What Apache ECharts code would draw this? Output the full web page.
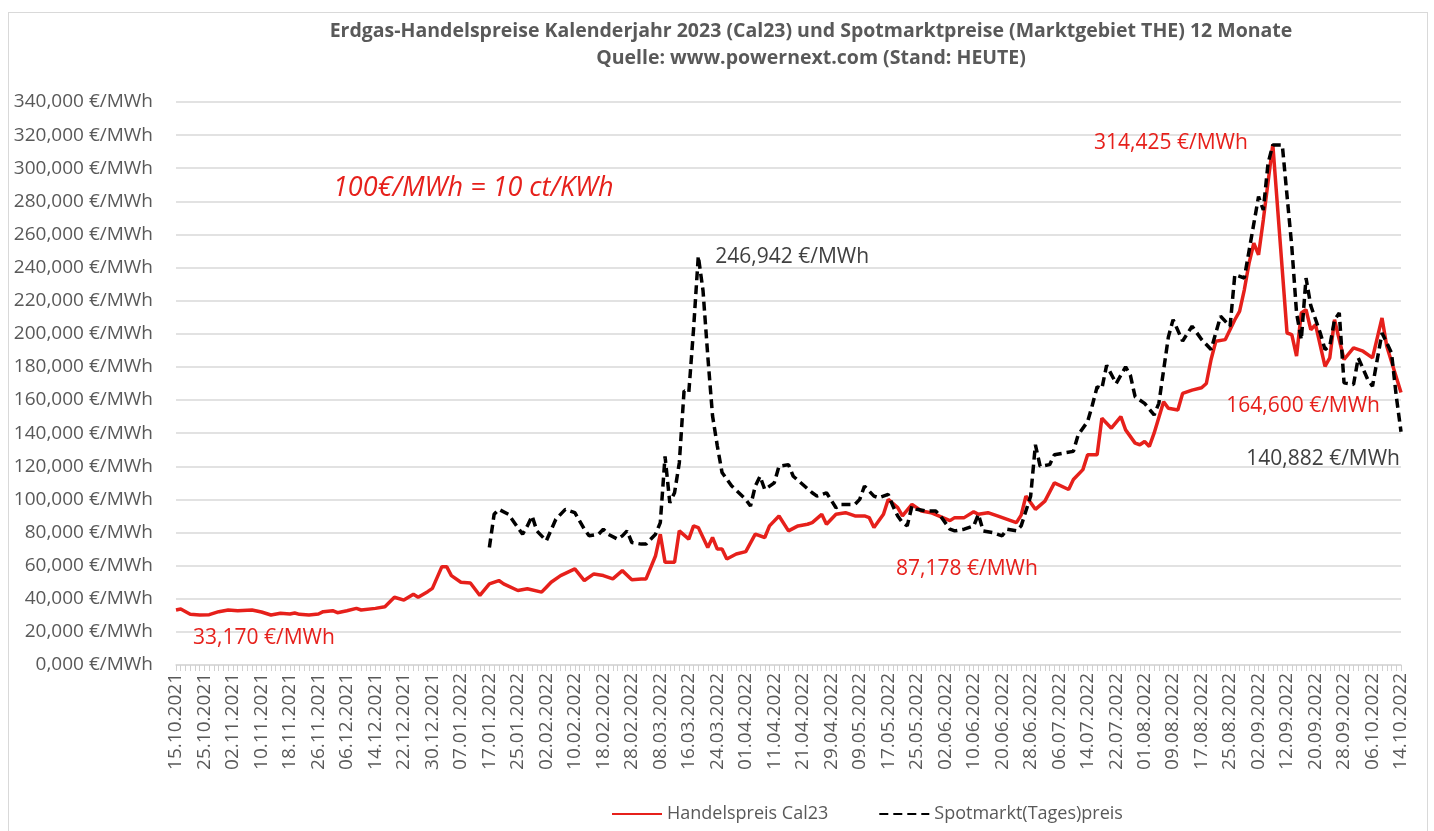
<!DOCTYPE html>
<html>
<head>
<meta charset="utf-8">
<script src="https://cdn.jsdelivr.net/npm/echarts@6/dist/echarts.min.js"></script>
<style>
html, body { margin: 0; padding: 0; background: #fff; }
#frame { position: absolute; left: 8px; top: 12px; width: 1420px; height: 830px; border: 1px solid #d9d9d9; box-sizing: border-box; }
#chart { position: absolute; left: 0; top: 0; width: 1434px; height: 831px; }
</style>
</head>
<body>
<div id="frame"></div>
<div id="chart"></div>
<script>
// Handelstage 15.10.2021 - 14.10.2022 (ohne Wochenenden, ohne Ostern)
var startDate = new Date(2021, 9, 15);
var endDate = new Date(2022, 9, 14);
var closedDays = ['15.04.2022', '18.04.2022'];

// Handelspreis Cal23: Handelstag-Index -> Preis in €/MWh
var calDays = [0,1,3,5,7,9,11,13,16,18,20,22,24,25,26,28,30,31,33,34,36,38,39,42,44,46,48,50,51,53,54,56,57,58,60,62,64,66,68,69,72,74,77,78,79,81,84,86,88,90,92,94,96,98,99,101,102,103,105,106,108,109,110,112,113,114,115,116,118,120,122,124,125,127,129,131,133,134,136,137,139,141,143,145,146,147,149,150,152,153,155,157,159,163,164,166,168,169,171,173,177,178,179,181,183,185,188,189,191,192,194,195,197,199,200,202,203,204,205,206,208,209,211,212,214,216,217,218,219,221,223,224,225,226,227,228,229,231,234,235,236,237,238,239,240,242,243,244,246,248,250,252,254,255,258];
var calPrices = [33.17,33.8,30.6,30.2,30.4,32.2,33.2,32.8,33.2,32,30.2,31.2,30.8,31.4,30.6,30.2,30.8,32.2,32.8,31.6,32.8,34.2,33.2,34.2,35.2,40.9,39.2,42.7,40.9,44.3,46.3,59.4,59.4,54,50,49.5,42,49,51,49,45,46,44,47,50,54,58,51,55,54,52,57,51.5,52,52,66,79,62,62,81,76,84,83,71,77,70,70,64,67,68.5,79,77,84,90,81,84,85,86,91,85,91,92,90,90,89,83,91,100,95,90,97,93,92,87.178,89,89,92.5,91,92,90,86,90.5,102,94,99,110,106,112,118,127,127,149,143,150,142,134,133,135,132,140,159,155,154,164,166,167.4,170,184.5,195.5,196.5,208.5,213.5,226.6,242.7,254.7,247.7,268.8,314.425,200.5,199.5,186.5,212.6,214.6,202.5,205.5,180.4,185.5,208.5,184.5,191.5,189.5,185.5,209.6,192.5,164.6];

// Spotmarkt(Tages)preis
var spotDays = [66,67,68,70,73,74,75,76,78,80,82,84,86,87,89,90,91,93,94,95,96,98,99,101,102,103,104,105,106,107,108,109,110,111,112,113,114,115,117,120,121,122,123,124,126,127,129,130,132,134,135,137,139,140,143,144,145,147,148,150,151,152,153,154,155,156,158,160,161,163,164,166,168,169,170,172,174,175,177,178,180,181,182,184,185,187,189,190,192,193,194,195,196,198,200,201,202,204,206,207,209,210,212,214,216,218,220,222,223,225,228,229,230,231,233,235,236,237,238,239,241,242,243,244,245,246,248,249,251,252,253,254,256,257,258];
var spotPrices = [71,91,94,91,79,84,90,81,75,88,94,92,82,78,79,82,79,76,78,81,74,73,73,79,86,126,98,104,122,165.5,164.5,202.7,246.942,226,186.6,150.5,132.4,116.3,108.2,100,96,108,114,106,110,120,121,114,109,104,102,104,95,97,97,100,108,102,101,103,96,90,86,84,96,94,93,93,90,82,81,82,84,91,81,80,78,82,81,84,102,133,120,121,127,128,129,139,147,157,168,167,181,170,180,175,162,158,151,158,198,208.6,195.6,204.6,196.6,190.5,210.6,204.5,235.7,233.7,282.9,274.8,303,314,314,252.7,212.6,196.5,233.7,217,200.5,190.5,192.5,208.5,212.6,170.4,169.4,185.5,172.4,168.4,184.5,200.5,188.5,162.4,140.882];

var RED = '#e6201b';
var GREY = '#595959';
var FONT = 'Open Sans';

// beschriftete Punkte (Tag -> Lage des Labels)
var calNotes = {
    0:   { position: 'right',  dx: 12,  dy: 28 },
    163: { position: 'bottom', dx: 17,  dy: 33 },
    231: { position: 'left',   dx: -20, dy: -1 },
    258: { position: 'left',   dx: -16, dy: 14 }
};
var spotNotes = {
    110: { position: 'right', dx: 12, dy: 1 },
    258: { position: 'left',  dx: 4,  dy: 27 }
};

function pad(n) { return (n < 10 ? '0' : '') + n; }
function fmtDate(d) { return pad(d.getDate()) + '.' + pad(d.getMonth() + 1) + '.' + d.getFullYear(); }

var tradingDays = [];
for (var d = new Date(startDate); d <= endDate; d.setDate(d.getDate() + 1)) {
    var wd = d.getDay();
    if (wd === 0 || wd === 6) continue;
    var s = fmtDate(d);
    if (closedDays.indexOf(s) >= 0) continue;
    tradingDays.push(s);
}

function euro(v) { return v.toFixed(3).replace('.', ',') + ' €/MWh'; }

function buildData(days, prices, notes, color) {
    return days.map(function (day, i) {
        var item = { value: [day, prices[i]] };
        if (notes[day]) {
            item.label = {
                show: true,
                position: notes[day].position,
                formatter: function (p) { return euro(p.value[1]); },
                color: color,
                fontFamily: FONT,
                fontSize: 21
            };
        }
        return item;
    });
}

function layoutFor(days, notes) {
    return function (p) {
        var n = notes[days[p.dataIndex]];
        return n ? { dx: n.dx, dy: n.dy } : {};
    };
}

var myChart = echarts.init(document.getElementById('chart'));

var option = {
    animation: false,
    graphic: [
        {
            type: 'text', x: 811, y: 31,
            style: { text: 'Erdgas-Handelspreise Kalenderjahr 2023 (Cal23) und Spotmarktpreise (Marktgebiet THE) 12 Monate',
                     font: 'bold 19.5px "Open Sans"', fill: GREY, textAlign: 'center', textVerticalAlign: 'middle' }
        },
        {
            type: 'text', x: 811, y: 58,
            style: { text: 'Quelle: www.powernext.com (Stand: HEUTE)',
                     font: 'bold 19.5px "Open Sans"', fill: GREY, textAlign: 'center', textVerticalAlign: 'middle' }
        },
        {
            type: 'text', x: 333, y: 188,
            style: { text: '100€/MWh = 10 ct/KWh', font: 'italic 27px "Open Sans"', fill: RED,
                     textAlign: 'left', textVerticalAlign: 'middle' }
        }
    ],
    legend: {
        bottom: 3,
        left: 606,
        itemWidth: 50,
        itemHeight: 14,
        itemGap: 50,
        itemStyle: { opacity: 0 },
        textStyle: { color: GREY, fontFamily: FONT, fontSize: 18 },
        data: ['Handelspreis Cal23', 'Spotmarkt(Tages)preis']
    },
    grid: { left: 176, right: 33, top: 102, bottom: 166, containLabel: false },
    xAxis: {
        type: 'category',
        data: tradingDays,
        boundaryGap: false,
        axisLine: { lineStyle: { color: '#d9d9d9', width: 1.5 } },
        axisTick: { show: true, interval: 0, length: 6, lineStyle: { color: '#d0d0d0' } },
        axisLabel: { interval: 5, rotate: 90, margin: 8, color: GREY, fontFamily: FONT, fontSize: 19 },
        splitLine: { show: false }
    },
    yAxis: {
        type: 'value',
        min: 0,
        max: 340,
        interval: 20,
        axisLine: { show: false },
        axisTick: { show: false },
        axisLabel: { margin: 23, color: GREY, fontFamily: FONT, fontSize: 19, formatter: euro },
        splitLine: { lineStyle: { color: '#d9d9d9', width: 1.5 } }
    },
    series: [
        {
            name: 'Handelspreis Cal23',
            type: 'line',
            data: buildData(calDays, calPrices, calNotes, RED),
            symbol: 'circle',
            symbolSize: 0,
            showSymbol: true,
            showAllSymbol: true,
            itemStyle: { color: RED },
            lineStyle: { color: RED, width: 3.5 },
            labelLayout: layoutFor(calDays, calNotes),
            z: 3
        },
        {
            name: 'Spotmarkt(Tages)preis',
            type: 'line',
            data: buildData(spotDays, spotPrices, spotNotes, '#404040'),
            symbol: 'circle',
            symbolSize: 0,
            showSymbol: true,
            showAllSymbol: true,
            itemStyle: { color: '#000' },
            lineStyle: { color: '#000', width: 3.5, type: [9, 5] },
            labelLayout: layoutFor(spotDays, spotNotes),
            z: 4
        }
    ]
};

myChart.setOption(option);
</script>
</body>
</html>
